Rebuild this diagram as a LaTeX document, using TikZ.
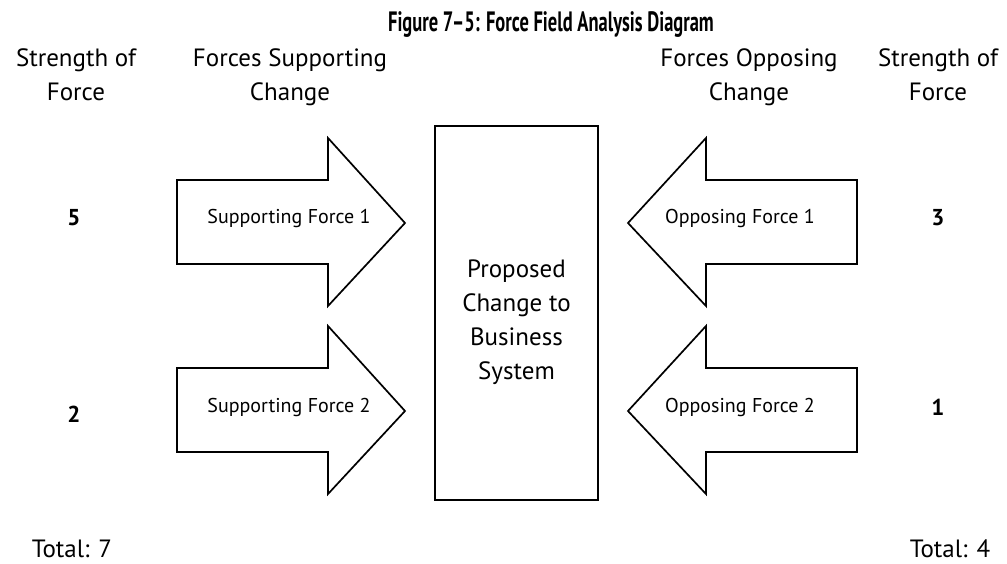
\documentclass[tikz,border=0pt]{standalone}
\usepackage{fontspec}
\setmainfont{PT Sans}
\usepackage{graphicx}
\begin{document}
\begin{tikzpicture}[x=1pt,y=-1pt,
  shape outline/.style={draw=black,line width=1.7pt,line join=miter,fill=white},
  lbl/.style={font=\fontsize{25}{34}\selectfont,inner sep=0pt,anchor=base},
  arrowtxt/.style={font=\fontsize{20}{24}\selectfont,inner sep=0pt,anchor=base},
  num/.style={font=\fontsize{23}{26}\selectfont\bfseries,inner sep=0pt,anchor=base}]
\useasboundingbox (0,0) rectangle (1007,564);
% title
\node[inner sep=0pt,anchor=base] (title) at (551,32) {\scalebox{0.66}[1]{\bfseries\fontsize{28}{32}\selectfont Figure 7--5: Force Field Analysis Diagram}};
% headings
\node[lbl] (hsl1) at (76,67) {Strength of};
\node[lbl] (hsl2) at (76,101) {Force};
\node[lbl] (hfs1) at (290,67) {Forces Supporting};
\node[lbl] (hfs2) at (290,101) {Change};
\node[lbl] (hfo1) at (749,67) {Forces Opposing};
\node[lbl] (hfo2) at (749,101) {Change};
\node[lbl] (hsr1) at (938,67) {Strength of};
\node[lbl] (hsr2) at (938,101) {Force};
% central box
\draw[shape outline] (435,126) rectangle (598,500);
\node[lbl] (b1) at (516.5,277) {Proposed};
\node[lbl] (b2) at (516.5,311) {Change to};
\node[lbl] (b3) at (516.5,345) {Business};
\node[lbl] (b4) at (516.5,379) {System};
% supporting arrows
\foreach \dy/\n in {0/1,188/2}{
  \draw[shape outline] (177,180+\dy) -- (328,180+\dy) -- (328,138+\dy) -- (405,223+\dy)
     -- (328,306+\dy) -- (328,264+\dy) -- (177,264+\dy) -- cycle;
  \node[arrowtxt] (s\n) at (289,224+\dy) {Supporting Force \n};
}
% opposing arrows
\foreach \dy/\n in {0/1,188/2}{
  \draw[shape outline] (857,180+\dy) -- (706,180+\dy) -- (706,138+\dy) -- (628,223+\dy)
     -- (706,306+\dy) -- (706,264+\dy) -- (857,264+\dy) -- cycle;
  \node[arrowtxt] (o\n) at (740,224+\dy) {Opposing Force \n};
}
% strengths
\node[num] (n5) at (74,226) {5};
\node[num] (n2) at (74,422) {2};
\node[num] (n3) at (938,226) {3};
\node[num] (n1) at (938,415) {1};
% totals
\node[lbl] (tl) at (72,557) {Total: 7};
\node[lbl] (tr) at (950,557) {Total: 4};
\end{tikzpicture}
\end{document}
